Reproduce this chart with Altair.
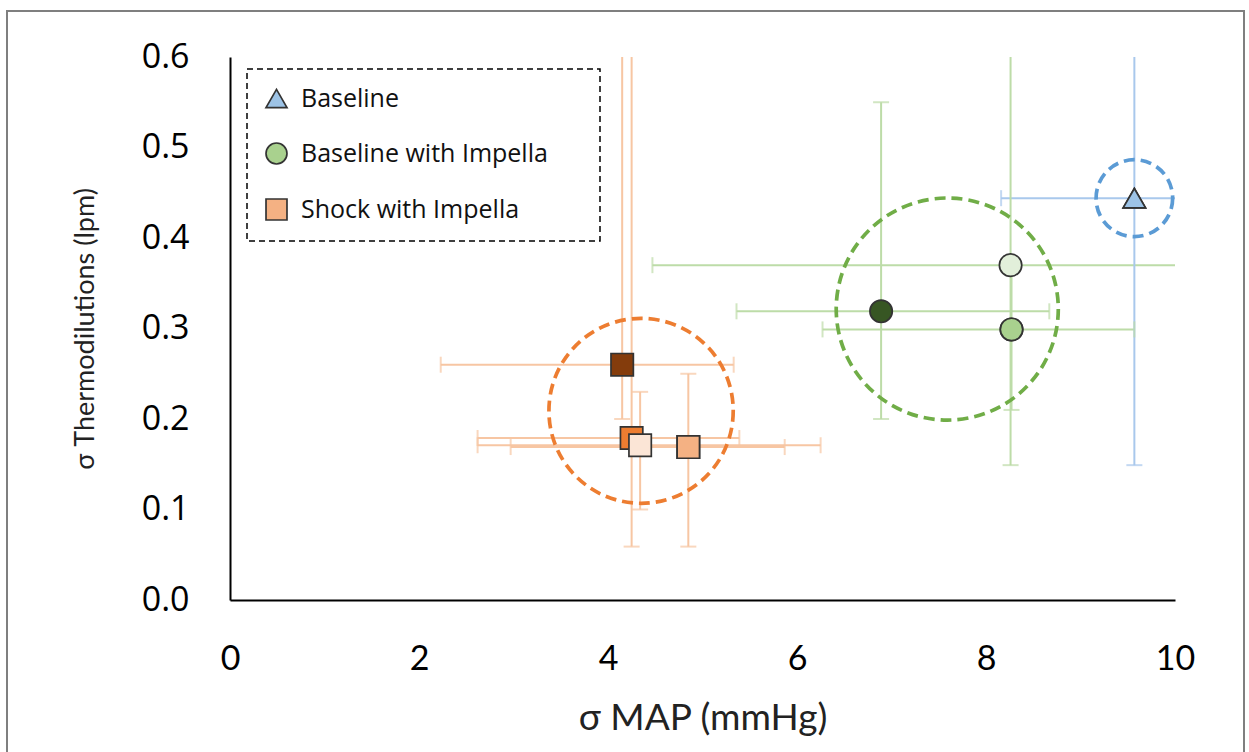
import altair as alt
import pandas as pd

# ---------------- data ----------------
groups = ["Baseline", "Baseline with Impella", "Baseline with Impella", "Baseline with Impella",
          "Shock with Impella", "Shock with Impella", "Shock with Impella", "Shock with Impella"]
fills = ["#9dc3e6", "#e2efda", "#a9d18e", "#375623", "#843c0c", "#ed7d31", "#fbe5d6", "#f4b183"]
map_sd = [9.57, 8.26, 8.27, 6.89, 4.15, 4.25, 4.34, 4.85]
thermo_sd = [0.444, 0.370, 0.299, 0.319, 0.260, 0.179, 0.171, 0.169]
map_lo = [8.16, 4.47, 6.27, 5.36, 2.23, 2.62, 2.62, 2.97]
map_hi = [10.98, 12.05, 9.57, 8.67, 5.33, 5.39, 6.25, 5.87]
thermo_lo = [0.149, 0.149, 0.21, 0.20, 0.20, 0.059, 0.10, 0.059]
thermo_hi = [0.74, 0.65, 0.375, 0.55, 0.70, 0.65, 0.23, 0.25]
legend_rep = [True, False, True, False, False, False, False, True]

ring_groups = ["Baseline", "Baseline with Impella", "Shock with Impella"]
ring_x = [9.57, 7.59, 4.35]
ring_y = [0.444, 0.3215, 0.209]
ring_radius = [0.405, 1.175, 0.975]  # in mmHg units

legend_names = ["Baseline", "Baseline with Impella", "Shock with Impella"]
legend_fills = ["#9dc3e6", "#a9d18e", "#f4b183"]
legend_shapes = ["triangle-up", "circle", "square"]
bar_colors = ["#a9c8ec", "#bddca8", "#f7c6a3"]
ring_colors = ["#5b9bd5", "#70ad47", "#ed7d31"]

x_ticks = [0, 2, 4, 6, 8, 10]
y_ticks = [0.0, 0.1, 0.2, 0.3, 0.4, 0.5, 0.6]

# ---------------- layout ----------------
W, H = 945, 543
LEFT, TOP = 230, 57
XMAX, YMAX = 10, 0.6
px_per_x = W / XMAX

pts = pd.DataFrame({
    "group": groups, "fill": fills, "x": map_sd, "y": thermo_sd,
    "xlo": map_lo, "xhi": map_hi, "ylo": thermo_lo, "yhi": thermo_hi,
    "rep": legend_rep,
})
pts["bar"] = pts["group"].map(dict(zip(legend_names, bar_colors)))
pts["order"] = range(len(pts))

rings = pd.DataFrame({"group": ring_groups, "x": ring_x, "y": ring_y, "r": ring_radius})
rings["color"] = rings["group"].map(dict(zip(legend_names, ring_colors)))
rings["size"] = (2 * rings["r"] * px_per_x) ** 2

xs = alt.Scale(domain=[0, XMAX], nice=False)
ys = alt.Scale(domain=[0, YMAX], nice=False)
shape_scale = alt.Scale(domain=legend_names, range=legend_shapes)

base = alt.Chart(pts)

h_bars = base.mark_rule(strokeWidth=2, clip=True).encode(
    x=alt.X("xlo:Q", scale=xs, axis=alt.Axis(
        values=x_ticks, format="d", grid=False, ticks=False, domainColor="black", domainWidth=2,
        labelFontSize=34, labelFont="Lato", labelColor="black", labelPadding=42, labelFlush=False,
        title="σ MAP (mmHg)", titleFont="Lato", titleFontSize=37, titleFontWeight="normal",
        titleColor="#222222", titleBaseline="middle", titleY=118)),
    x2="xhi:Q",
    y=alt.Y("y:Q", scale=ys, axis=alt.Axis(
        values=y_ticks, format=".1f", grid=False, ticks=False, domainColor="black", domainWidth=2,
        labelFontSize=34, labelFont="Open Sans", labelColor="black", labelPadding=41,
        labelFlush=False,
        title="σ Thermodilutions (lpm)", titleFont="Lato", titleFontSize=27,
        titleFontWeight="normal", titleColor="#222222", titleBaseline="middle",
        titleX=-145, titleY=H / 2)),
    stroke=alt.Stroke("bar:N", scale=None),
)
v_bars = base.mark_rule(strokeWidth=2, clip=True).encode(
    x=alt.X("x:Q", scale=xs), y=alt.Y("ylo:Q", scale=ys), y2="yhi:Q",
    stroke=alt.Stroke("bar:N", scale=None),
)
cap_xlo = base.mark_tick(orient="vertical", size=16, thickness=2, clip=True).encode(
    x=alt.X("xlo:Q", scale=xs), y=alt.Y("y:Q", scale=ys), color=alt.Color("bar:N", scale=None))
cap_xhi = base.mark_tick(orient="vertical", size=16, thickness=2, clip=True).encode(
    x=alt.X("xhi:Q", scale=xs), y=alt.Y("y:Q", scale=ys), color=alt.Color("bar:N", scale=None))
cap_ylo = base.mark_tick(orient="horizontal", size=16, thickness=2, clip=True).encode(
    x=alt.X("x:Q", scale=xs), y=alt.Y("ylo:Q", scale=ys), color=alt.Color("bar:N", scale=None))
cap_yhi = base.mark_tick(orient="horizontal", size=16, thickness=2, clip=True).encode(
    x=alt.X("x:Q", scale=xs), y=alt.Y("yhi:Q", scale=ys), color=alt.Color("bar:N", scale=None))

ring_layer = alt.Chart(rings).mark_point(
    shape="circle", filled=False, strokeWidth=3.7, strokeDash=[11, 6], opacity=1
).encode(
    x=alt.X("x:Q", scale=xs), y=alt.Y("y:Q", scale=ys),
    size=alt.Size("size:Q", scale=None),
    stroke=alt.Stroke("color:N", scale=None),
)

points = base.mark_point(filled=True, opacity=1, stroke="#333333", strokeWidth=1.7, size=500).encode(
    x=alt.X("x:Q", scale=xs), y=alt.Y("y:Q", scale=ys),
    shape=alt.Shape("group:N", scale=shape_scale, title="."),
    color=alt.Color("fill:N", scale=None),
    order=alt.Order("order:Q"),
)

legend_def = alt.Legend(
    title=".", titleOrient="right", titleColor="white", titleFontSize=8, titlePadding=32,
    symbolStrokeColor="#333333", symbolStrokeWidth=1.7,
)

legend_layer = base.transform_filter("datum.rep").mark_point(
    filled=True, opacity=1, stroke="#333333", strokeWidth=1.7, size=500
).encode(
    x=alt.X("x:Q", scale=xs), y=alt.Y("y:Q", scale=ys),
    shape=alt.Shape("group:N", scale=shape_scale, legend=legend_def),
    fill=alt.Fill("group:N", scale=alt.Scale(domain=legend_names, range=legend_fills), legend=legend_def),
)

frame = alt.Chart(pd.DataFrame({"a": [0]})).mark_rect(
    filled=False, stroke="#7f7f7f", strokeWidth=2, clip=False
).encode(
    x=alt.value(7 - LEFT), x2=alt.value(1244 - LEFT),
    y=alt.value(11 - TOP), y2=alt.value(770 - TOP),
)

chart = alt.layer(
    frame, h_bars, v_bars, cap_xlo, cap_xhi, cap_ylo, cap_yhi, ring_layer, points, legend_layer
).properties(
    width=W, height=H,
    autosize=alt.AutoSizeParams(type="none"),
    padding={"left": LEFT, "top": TOP, "right": 1249 - LEFT - W, "bottom": 752 - TOP - H},
    background="white",
).configure_view(stroke=None).configure_legend(
    orient="none", legendX=17, legendY=12,
    strokeColor="black", strokeDash=[6, 4], strokeWidth=1.5, fillColor="white",
    padding=17, labelFont="Open Sans", labelFontSize=25, labelColor="#111111", labelLimit=700,
    symbolSize=440, rowPadding=27, labelOffset=12,
)

chart.save("out.html", embed_options={"renderer": "svg", "actions": False})
